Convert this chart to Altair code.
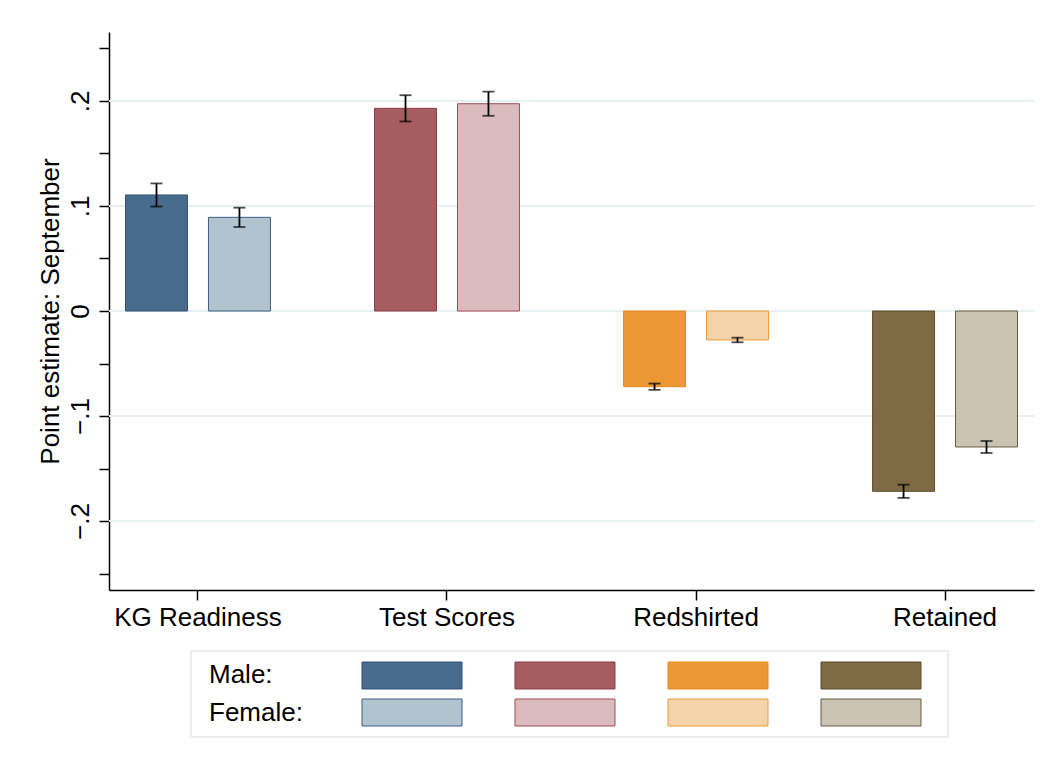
import altair as alt
import pandas as pd

# ---- data ----
categories = ["KG Readiness", "Test Scores", "Redshirted", "Retained"]
sexes = ["Male", "Female"]
male_est = [0.1105, 0.1930, -0.0721, -0.1717]
male_err = [0.0110, 0.0125, 0.0030, 0.0063]
female_est = [0.0892, 0.1974, -0.0276, -0.1295]
female_err = [0.0092, 0.0115, 0.0022, 0.0057]

male_fill = ["#476C8E", "#A55D62", "#EB9834", "#7E6B45"]
female_fill = ["#B2C3D0", "#DBBBBE", "#F5D3AA", "#CAC3B3"]
male_stroke = ["#2F5275", "#8D3B44", "#E8891B", "#5B4B2A"]
female_stroke = ["#3E5E82", "#A24A53", "#EE9A38", "#6A5C3E"]

y_ticks = [-0.25, -0.2, -0.15, -0.1, -0.05, 0, 0.05, 0.1, 0.15, 0.2, 0.25]
y_grid = [-0.2, -0.1, 0, 0.1, 0.2]
y_domain = [-0.2657, 0.2657]
legend_labels = ["Male:", "Female:"]

FONT = "Liberation Sans"
FS = 26

# ---- tables ----
rows = []
keys, fills, strokes = [], [], []
for i, c in enumerate(categories):
    for s, est, err, fl, st in (
        ("Male", male_est[i], male_err[i], male_fill[i], male_stroke[i]),
        ("Female", female_est[i], female_err[i], female_fill[i], female_stroke[i]),
    ):
        k = f"{c} {s}"
        rows.append({"category": c, "sex": s, "est": est, "lo": est - err,
                     "hi": est + err, "key": k})
        keys.append(k)
        fills.append(fl)
        strokes.append(st)
df = pd.DataFrame(rows)
grid_df = pd.DataFrame({"v": y_grid})

leg_rows = []
for r, s in enumerate(sexes):
    for i, c in enumerate(categories):
        leg_rows.append({"row": s, "col": i + 1, "key": f"{c} {s}"})
leg_df = pd.DataFrame(leg_rows)
leg_text_df = pd.DataFrame({"row": sexes, "col": [0, 0], "label": legend_labels})

fill_scale = alt.Scale(domain=keys, range=fills)
stroke_scale = alt.Scale(domain=keys, range=strokes)

y_title = "Point estimate: September"
y_axis = alt.Axis(
    values=y_ticks,
    labelExpr="abs(round(datum.value*20)) % 2 == 0 ? (datum.value == 0 ? '0' : replace(format(datum.value, '.1f'), '0.', '.')) : ''",
    tickSize=10, tickWidth=1.5, tickColor="black",
    domainColor="black", domainWidth=1.5,
    labelAngle=270, labelAlign="center", labelBaseline="bottom",
    labelPadding=6, labelFontSize=FS, labelColor="black", labelFont=FONT,
    labelOverlap=False, labelFlush=False,
    title=y_title, titleFontSize=FS, titleFontWeight="normal", titleColor="black",
    titleFont=FONT, titlePadding=4, grid=False,
)
y_scale = alt.Scale(domain=y_domain, nice=False, zero=False)

x_enc = alt.X(
    "category:N", sort=categories,
    scale=alt.Scale(paddingInner=0.2855, paddingOuter=0),
    axis=alt.Axis(title=None, labelAngle=0, labelFontSize=FS, labelColor="black",
                  labelFont=FONT, labelPadding=4, tickSize=10, tickWidth=1.5,
                  tickColor="black", domainColor="black", domainWidth=1.5,
                  grid=False, labelOverlap=False),
)
xoff_enc = alt.XOffset("sex:N", sort=sexes,
                       scale=alt.Scale(paddingInner=0.253, paddingOuter=0.199))

base = alt.Chart(df)

grid = alt.Chart(grid_df).mark_rule(color="#E6EFF1", strokeWidth=2).encode(
    y=alt.Y("v:Q", scale=y_scale, axis=y_axis, title=y_title)
)

bars = base.mark_bar(strokeWidth=1).encode(
    x=x_enc,
    xOffset=xoff_enc,
    y=alt.Y("est:Q", scale=y_scale, axis=y_axis, title=y_title, stack=None),
    fill=alt.Fill("key:N", scale=fill_scale, legend=None),
    stroke=alt.Stroke("key:N", scale=stroke_scale, legend=None),
)

err_rule = base.mark_rule(color="black", strokeWidth=1.8).encode(
    x=x_enc, xOffset=xoff_enc,
    y=alt.Y("lo:Q", scale=y_scale, axis=y_axis, title=y_title), y2="hi:Q",
)
cap_lo = base.mark_tick(color="black", thickness=1.8, size=12).encode(
    x=x_enc, xOffset=xoff_enc,
    y=alt.Y("lo:Q", scale=y_scale, axis=y_axis, title=y_title),
)
cap_hi = base.mark_tick(color="black", thickness=1.8, size=12).encode(
    x=x_enc, xOffset=xoff_enc,
    y=alt.Y("hi:Q", scale=y_scale, axis=y_axis, title=y_title),
)

main = alt.layer(grid, bars, err_rule, cap_lo, cap_hi).properties(
    width=925, height=558, view=alt.ViewBackground(stroke=None)
)

# ---- legend panel ----
leg_x = alt.Scale(domain=[0, 1, 2, 3, 4], paddingInner=0.3464,
                  paddingOuter=0.1471, align=0.4)
leg_y = alt.Scale(domain=sexes, paddingInner=0.2703, paddingOuter=0.2973, align=0.5)

swatches = alt.Chart(leg_df).mark_rect(strokeWidth=1).encode(
    x=alt.X("col:O", scale=leg_x, axis=None),
    y=alt.Y("row:N", scale=leg_y, axis=None),
    fill=alt.Fill("key:N", scale=fill_scale, legend=None),
    stroke=alt.Stroke("key:N", scale=stroke_scale, legend=None),
)
leg_text = alt.Chart(leg_text_df).mark_text(
    align="left", baseline="middle", fontSize=FS, font=FONT, color="black"
).encode(
    x=alt.X("col:O", scale=leg_x, axis=None, bandPosition=0),
    y=alt.Y("row:N", scale=leg_y, axis=None),
    text="label:N",
)
legend_box = alt.layer(swatches, leg_text).properties(
    width=757, height=86,
    view=alt.ViewBackground(stroke="#E2EAEA", strokeWidth=1.5),
)
spacer = alt.Chart(pd.DataFrame({"a": [0]})).mark_point(opacity=0).encode(
    x=alt.value(0), y=alt.value(0)
).properties(width=81, height=86, view=alt.ViewBackground(stroke=None))

legend_row = alt.hconcat(spacer, legend_box, spacing=0)

chart = alt.vconcat(main, legend_row, spacing=18).properties(
    padding={"left": 29, "top": 24, "right": 0, "bottom": 5},
    background="white",
).configure(font=FONT)

chart.save("out.html", embed_options={"renderer": "svg", "actions": False})
